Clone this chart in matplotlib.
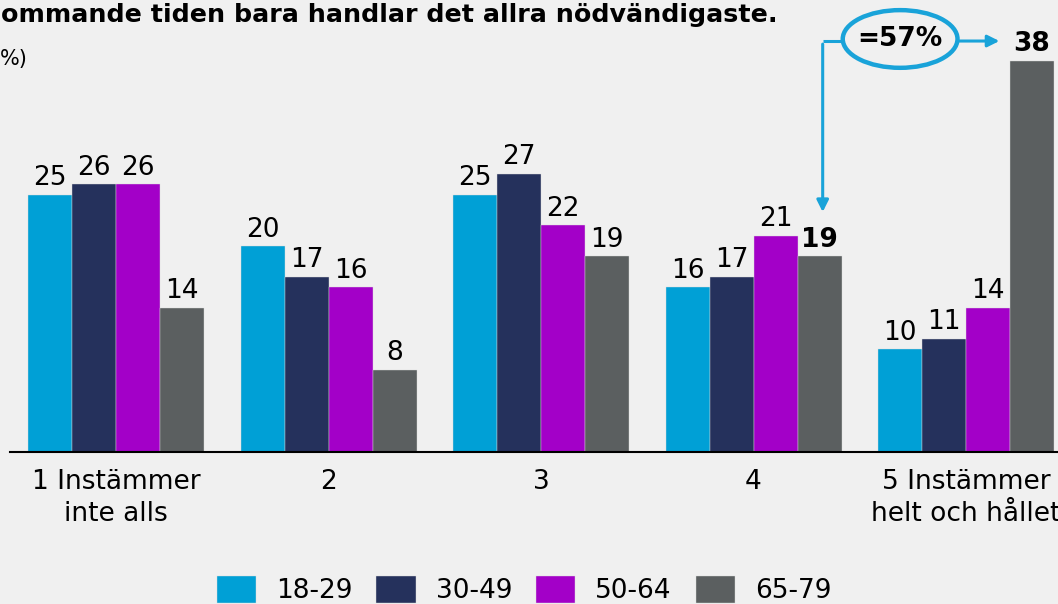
import matplotlib
matplotlib.use("Agg")
import matplotlib.pyplot as plt
import numpy as np
from matplotlib.patches import Ellipse

# data (percent)
categories = ["1 Instämmer\ninte alls", "2", "3", "4", "5 Instämmer\nhelt och hållet"]
age_groups = ["18-29", "30-49", "50-64", "65-79"]
v_18_29 = [25, 20, 25, 16, 10]
v_30_49 = [26, 17, 27, 17, 11]
v_50_64 = [26, 16, 22, 21, 14]
v_65_79 = [14, 8, 19, 19, 38]
series = [v_18_29, v_30_49, v_50_64, v_65_79]
highlight_sum = "=57%"

title = "ommande tiden bara handlar det allra nödvändigaste."
unit_note = "%)"

colors = ["#00a0d6", "#25315c", "#a300c8", "#5b5f60"]
bg = "#f0f0f0"
accent = "#19a3d9"

W, H = 1058, 604
fig = plt.figure(figsize=(W / 100, H / 100), dpi=100, facecolor=bg)

# axes placed in pixel terms: baseline at y=452 px, left edge at x=10 px
ax = fig.add_axes([10 / W, 1 - 452 / H, 1 - 10 / W, 452 / H], facecolor=bg)

px_per_group = 212.5
x = np.arange(len(categories))
w = 44 / px_per_group
offsets = (np.arange(4) - 1.5) * w

for i, (vals, col, lab) in enumerate(zip(series, colors, age_groups)):
    bars = ax.bar(x + offsets[i], vals, w, color=col, label=lab,
                  edgecolor="#d8d8d8", linewidth=0.3)
    for j, b in enumerate(bars):
        bold = (i == 3 and j >= 3)
        ax.annotate(str(vals[j]), (b.get_x() + b.get_width() / 2, b.get_height()),
                    xytext=(0, 2.5), textcoords="offset points", ha="center", va="bottom",
                    fontsize=19, fontweight="bold" if bold else "normal", color="black")

ax.set_xlim((10 - 116) / px_per_group, (W - 116) / px_per_group)
ax.set_ylim(0, 452 / 10.3)
ax.set_xticks(x)
ax.set_xticklabels(categories, fontsize=19, linespacing=1.3)
ax.tick_params(axis="x", length=0, pad=12)
ax.set_yticks([])
for s in ["top", "right", "left"]:
    ax.spines[s].set_visible(False)
ax.spines["bottom"].set_color("black")
ax.spines["bottom"].set_linewidth(1.5)

# annotation: ellipse with =57% linking 4 and 5 of the 65-79 group
gx4 = x[3] + offsets[3]
gx5 = x[4] + offsets[3]
ey = 40.1
ex = 3.69
ax.add_patch(Ellipse((ex, ey), 0.54, 5.6, fill=False, edgecolor=accent, linewidth=3.2,
                     clip_on=False))
ax.text(ex, ey, highlight_sum, ha="center", va="center", fontsize=19, fontweight="bold")
ax.plot([gx4 + 0.015, ex - 0.27], [ey - 0.2, ey - 0.2], color=accent, lw=2.2,
        solid_capstyle="butt", clip_on=False)
ax.annotate("", xy=(gx4 + 0.015, v_65_79[3] + 4.3), xytext=(gx4 + 0.015, ey - 0.5),
            arrowprops=dict(arrowstyle="-|>,head_length=0.7,head_width=0.35",
                            color=accent, lw=2.2, shrinkA=0, shrinkB=0))
ax.annotate("", xy=(gx5 - w / 2 - 0.05, ey - 0.2), xytext=(ex + 0.27, ey - 0.2),
            arrowprops=dict(arrowstyle="-|>,head_length=0.7,head_width=0.35",
                            color=accent, lw=2.2, shrinkA=0, shrinkB=0))

fig.text(778 / W, 1 - 3 / H, title, ha="right", va="top", fontsize=18.3, fontweight="bold")
fig.text(0, 1 - 59 / H, unit_note, ha="left", va="center", fontsize=15)

fig.legend(loc="upper center", bbox_to_anchor=(524 / W, 1 - 552 / H), ncol=4,
           frameon=False, fontsize=19, handlelength=1.5, handleheight=1.2,
           handletextpad=0.75, columnspacing=0.9)

fig.savefig("out.png", dpi=100, facecolor=bg)
